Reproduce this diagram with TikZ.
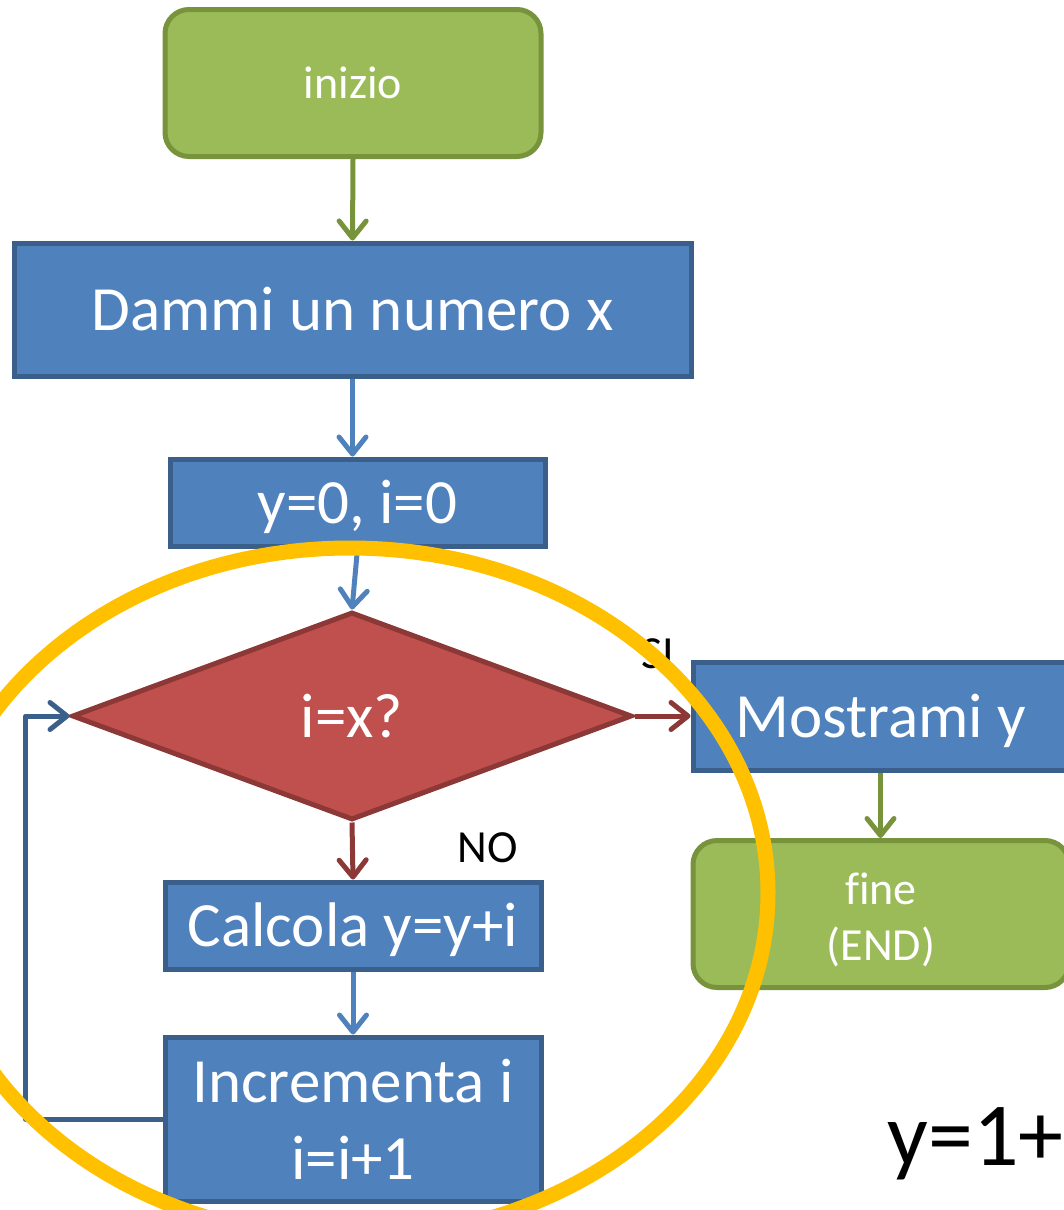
\documentclass[tikz,border=0pt]{standalone}
\usepackage{fontspec}
\setmainfont[Ligatures=NoCommon]{Carlito}
\usetikzlibrary{arrows.meta,shapes.geometric}

\definecolor{boxblue}{HTML}{4F81BD}
\definecolor{boxblueline}{HTML}{3A5F8B}
\definecolor{startgreen}{HTML}{9BBB59}
\definecolor{startgreenline}{HTML}{77933C}
\definecolor{testred}{HTML}{C0504D}
\definecolor{testredline}{HTML}{8C3836}
\definecolor{ringyellow}{HTML}{FFC000}

\begin{document}
\begin{tikzpicture}[x = 1pt, y = -1pt, line width = 5pt,
    > = {Straight Barb[length=17pt,width=27pt,round]},
    proc/.style = {draw=boxblueline, fill=boxblue, text=white, inner sep=0pt,
      minimum width=376pt, font=\fontsize{63}{77}\selectfont},
    onecap/.style = {text height=42pt, text depth=0pt},
    term/.style = {draw=startgreenline, fill=startgreen, text=white, inner sep=0pt,
      rounded corners=24pt, minimum width=376pt, minimum height=147pt, align=center,
      font=\fontsize{46}{56}\selectfont},
    test/.style = {diamond, draw=testredline, fill=testred, text=white, inner sep=0pt,
      minimum width=560pt, minimum height=208pt, font=\fontsize{63}{77}\selectfont},
    lbl/.style = {inner sep=0pt, anchor=base, font=\fontsize{46}{56}\selectfont}]
    \useasboundingbox (0,0) rectangle (1064,1210);
    \clip (0,0) rectangle (1064,1210);

    % blocks
    \node [term] (start) at (353,83) {inizio};
    \node [proc, onecap, minimum width=677pt, minimum height=133pt] (input) at (352.5,309.5) {Dammi un numero x};
    \node [proc, onecap, minimum width=375pt, minimum height=87pt] (init) at (357.5,502.5) {y=0, i=0};
    \node [test] (check) at (352,716) {i=x?};
    \node [proc, onecap, minimum width=375pt, minimum height=108pt] (show) at (880.5,716) {Mostrami y};
    \node [proc, onecap, minimum height=87pt] (sum) at (353,925.5) {Calcola y=y+i};
    \node [proc, align=center, minimum height=164pt] (incr) at (353,1119) {Incrementa i\\i=i+1};
    \node [term, text height=92pt, text depth=0pt] (stop) at (881,914) {fine\\(END)};

    % connectors
    \draw [->, startgreenline] (start.south) -- (input.north);
    \draw [->, boxblue] (input.south) -- (input.south |- init.north);
    \draw [->, boxblue] (init.south) -- (check.north);
    \draw [->, testredline] (check.south) -- (sum.north);
    \draw [->, boxblue] (sum.south) -- (incr.north);
    \draw [->, testredline] (check.east) -- (show.west);
    \draw [->, startgreenline] (show.south) -- (show.south |- stop.north);
    \draw [->, boxblueline, line join=round] (incr.west) -- ++(-137,0) |- (check.west);

    \node [lbl] (yes) at (658,668) {SI};
    \node [lbl] (no) at (488,862) {NO};
    \node [anchor=base west, inner sep=0pt, font=\fontsize{90}{108}\selectfont] (total) at (885,1165) {y=1+};

    % loop ring
    \draw [ringyellow, line width=15pt] (350,893) ellipse [x radius=418pt, y radius=345pt];
  \end{tikzpicture}
\end{document}
